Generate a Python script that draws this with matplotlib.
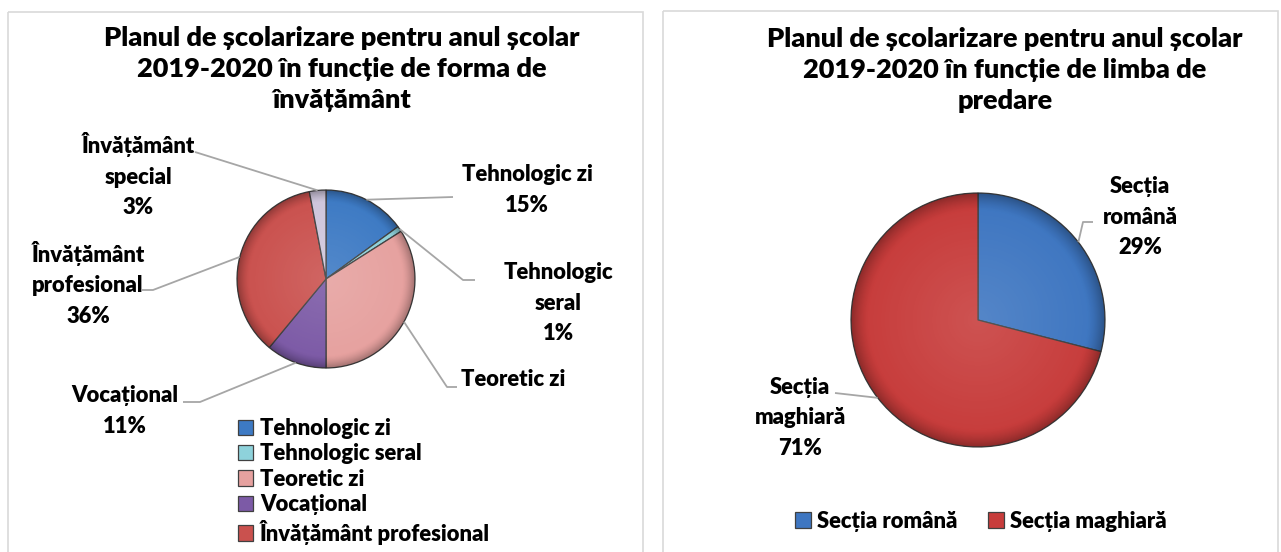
import numpy as np
import matplotlib.pyplot as plt
from matplotlib.patches import Rectangle

plt.rcParams['font.family'] = ['Lato', 'DejaVu Sans']

W, H = 1281, 552
WEIGHT = 'heavy'

# forma de invatamant
forme = ['Tehnologic zi', 'Tehnologic seral', 'Teoretic zi', 'Vocațional',
         'Învățământ profesional', 'Învățământ special']
forme_pct = [15, 1, 34, 11, 36, 3]
forme_colors = ['#3D7AC4', '#8ED2DB', '#E6A19F', '#7C5AA6', '#CA514E', '#CEC6DC']

# limba de predare
sectii = ['Secția română', 'Secția maghiară']
sectii_pct = [29, 71]
sectii_colors = ['#3E76C1', '#C73C3B']

fig = plt.figure(figsize=(W / 100, H / 100), dpi=100)
fig.patch.set_facecolor('white')


def pie_axes(cx, cy, r):
    ax = fig.add_axes([(cx - r) / W, 1 - (cy + r) / H, 2 * r / W, 2 * r / H])
    ax.set_xlim(-1, 1)
    ax.set_ylim(-1, 1)
    ax.axis('off')
    return ax


def draw_pie(ax, values, colors):
    wedges, _ = ax.pie(values, colors=colors, startangle=90, counterclock=False,
                       radius=1.0,
                       wedgeprops=dict(edgecolor='#404040', linewidth=0.9))
    # bevel-like shading: dark rim, soft highlight inside
    n = 400
    yy, xx = np.mgrid[-1:1:n * 1j, -1:1:n * 1j]
    rr = np.hypot(xx, yy)
    shade = np.zeros((n, n, 4))
    rim = np.clip((rr - 0.86) / 0.14, 0, 1)
    shade[..., 3] = 0.30 * rim ** 1.5
    hl = np.zeros((n, n, 4))
    hl[..., :3] = 1.0
    hl[..., 3] = 0.12 * np.clip(1 - rr / 0.95, 0, 1)
    for w in wedges:
        im = ax.imshow(shade, extent=(-1, 1, -1, 1), origin='lower', zorder=3)
        im.set_clip_path(w)
        im2 = ax.imshow(hl, extent=(-1, 1, -1, 1), origin='lower', zorder=3)
        im2.set_clip_path(w)
    ax.set_xlim(-1, 1)
    ax.set_ylim(-1, 1)
    return wedges


def edge_points(values, cx, cy, r):
    v = np.asarray(values, dtype=float)
    cum = np.cumsum(v) - v / 2
    theta = np.deg2rad(cum / v.sum() * 360)
    return [(cx + r * np.sin(t), cy - r * np.cos(t)) for t in theta]


# pie geometry in pixels
L_CX, L_CY, L_R = 326, 279, 89
R_CX, R_CY, R_R = 978, 320, 127

ax_l = pie_axes(L_CX, L_CY, L_R)
w_l = draw_pie(ax_l, forme_pct, forme_colors)
ax_r = pie_axes(R_CX, R_CY, R_R)
w_r = draw_pie(ax_r, sectii_pct, sectii_colors)

# overlay in pixel coordinates for frames, titles, labels and leaders
ov = fig.add_axes([0, 0, 1, 1], zorder=5)
ov.set_xlim(0, W)
ov.set_ylim(H, 0)
ov.axis('off')
ov.patch.set_alpha(0)

ov.add_patch(Rectangle((8, 12), 635, 560, fill=False, ec='#D9D9D9', lw=1.2))
ov.add_patch(Rectangle((663, 11), 615, 560, fill=False, ec='#D9D9D9', lw=1.2))

title_kw = dict(ha='center', va='center', fontsize=19.5, fontweight=WEIGHT,
                linespacing=1.36, color='black')
ov.text(342, 69, 'Planul de școlarizare pentru anul școlar\n'
        '2019-2020 în funcție de forma de\nînvățământ', **title_kw)
ov.text(1005, 70, 'Planul de școlarizare pentru anul școlar\n'
        '2019-2020 în funcție de limba de\npredare', **title_kw)

FS = 15.8
lab_kw = dict(ha='center', va='center', fontsize=FS, fontweight=WEIGHT,
              linespacing=1.58, color='black')
lead_kw = dict(color='#A6A6A6', lw=1.3, solid_capstyle='butt')


def pct(v):
    return f'{v}%'


# left labels: text position, leader path from label side
pts_l = edge_points(forme_pct, L_CX, L_CY, L_R)
left_labels = [
    (f'Tehnologic zi\n{pct(forme_pct[0])}', (527, 190), [(453, 197)]),
    (f'Tehnologic\nseral\n{pct(forme_pct[1])}', (558, 303), [(475, 280), (463, 280)]),
    ('Teoretic zi', (513, 380), [(457, 387), (447, 387)]),
    (f'Vocațional\n{pct(forme_pct[3])}', (125, 411), [(183, 402), (200, 402)]),
    (f'Învățământ\nprofesional\n{pct(forme_pct[4])}', (88, 284), [(142, 290), (153, 290)]),
    (f'Învățământ\nspecial\n{pct(forme_pct[5])}', (138, 175), [(195, 152)]),
]
for (txt, (tx, ty), path), p in zip(left_labels, pts_l):
    ov.text(tx, ty, txt, **lab_kw)
    xs = [q[0] for q in path] + [p[0]]
    ys = [q[1] for q in path] + [p[1]]
    ov.plot(xs, ys, **lead_kw)

pts_r = edge_points(sectii_pct, R_CX, R_CY, R_R)
right_labels = [
    (f'Secția\nromână\n{pct(sectii_pct[0])}', (1140, 217), [(1093, 222), (1083, 222)]),
    (f'Secția\nmaghiară\n{pct(sectii_pct[1])}', (800, 418), [(835, 393)]),
]
for (txt, (tx, ty), path), p in zip(right_labels, pts_r):
    ov.text(tx, ty, txt, **lab_kw)
    xs = [q[0] for q in path] + [p[0]]
    ys = [q[1] for q in path] + [p[1]]
    ov.plot(xs, ys, **lead_kw)

leg_kw = dict(frameon=False, handlelength=0.7, handleheight=0.7,
              handletextpad=0.3, borderpad=0, borderaxespad=0,
              prop=dict(weight=WEIGHT, size=FS))
ov.legend(w_l[:5], forme[:5], loc='upper left',
          bbox_to_anchor=(238 / W, 1 - 418 / H), bbox_transform=fig.transFigure,
          labelspacing=0.2, **leg_kw)
ax_r.legend(w_r, sectii, loc='center', ncol=2, columnspacing=1.4,
            bbox_to_anchor=(981 / W, 1 - 521 / H), bbox_transform=fig.transFigure,
            **leg_kw)

fig.savefig('out.png', dpi=100, facecolor='white')
